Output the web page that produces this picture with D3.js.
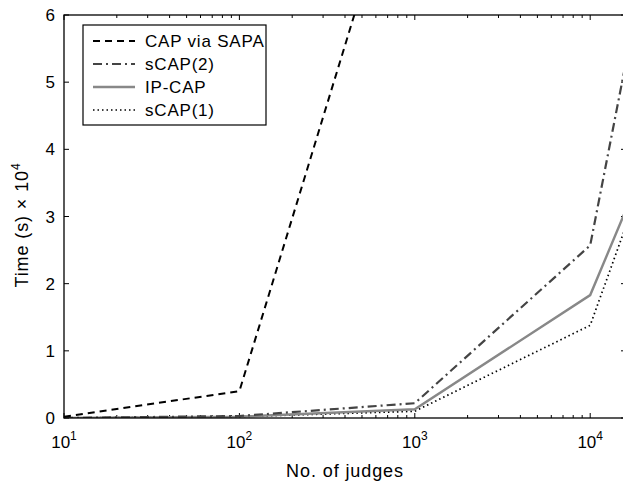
<!DOCTYPE html>
<html>
<head>
<meta charset="utf-8">
<script src="https://cdn.jsdelivr.net/npm/d3@7"></script>
<style>
  body { margin: 0; background: #fff; }
  text { font-family: "Liberation Sans", Arial, sans-serif; }
</style>
</head>
<body>
<div id="chart"></div>
<script>
// judges (x, log scale) and time in units of 1e4 s
const judges = [10, 100, 1000, 10000, 16000]
const capViaSapa = [0.02, 0.40, 8.95, null, null]
const sCap2 = [0.0, 0.03, 0.22, 2.57, 5.3]
const ipCap = [0.0, 0.02, 0.13, 1.83, 3.1]
const sCap1 = [0.0, 0.02, 0.10, 1.38, 2.86]
const yTicks = [0, 1, 2, 3, 4, 5, 6]
const xMajor = [10, 100, 1000, 10000]
const legendNames = ['CAP via SAPA', 'sCAP(2)', 'IP-CAP', 'sCAP(1)']

const series = [
  { name: legendNames[0], values: capViaSapa, color: '#000', width: 2, dash: '7,5' },
  { name: legendNames[1], values: sCap2, color: '#444', width: 2.2, dash: '9,4,2,4' },
  { name: legendNames[2], values: ipCap, color: '#888', width: 2.4, dash: null },
  { name: legendNames[3], values: sCap1, color: '#000', width: 1.7, dash: '1.5,3' }
]

const width = 623
const height = 483
const m = { left: 64, right: 626, top: 15, bottom: 418 }

const x = d3.scaleLog().domain([10, 16000]).range([m.left, m.right])
const y = d3.scaleLinear().domain([0, 6]).range([m.bottom, m.top])

const svg = d3.select('#chart').append('svg')
  .attr('width', width)
  .attr('height', height)

svg.append('defs').append('clipPath').attr('id', 'clip')
  .append('rect')
  .attr('x', m.left).attr('y', m.top)
  .attr('width', m.right - m.left).attr('height', m.bottom - m.top)

// minor ticks
const minor = []
for (let e = 1; e <= 4; e++) {
  for (let k = 2; k <= 9; k++) {
    const v = k * Math.pow(10, e)
    if (v <= 16000) minor.push(v)
  }
}

const ticks = svg.append('g').attr('stroke', '#000').attr('stroke-width', 1)
minor.forEach(v => {
  ticks.append('line').attr('x1', x(v)).attr('x2', x(v)).attr('y1', m.bottom).attr('y2', m.bottom - 3)
  ticks.append('line').attr('x1', x(v)).attr('x2', x(v)).attr('y1', m.top).attr('y2', m.top + 3)
})
xMajor.forEach(v => {
  ticks.append('line').attr('x1', x(v)).attr('x2', x(v)).attr('y1', m.bottom).attr('y2', m.bottom - 5)
  ticks.append('line').attr('x1', x(v)).attr('x2', x(v)).attr('y1', m.top).attr('y2', m.top + 5)
})
yTicks.forEach(v => {
  ticks.append('line').attr('x1', m.left).attr('x2', m.left + 5).attr('y1', y(v)).attr('y2', y(v))
  ticks.append('line').attr('x1', m.right).attr('x2', m.right - 5).attr('y1', y(v)).attr('y2', y(v))
})

// data lines
const line = d3.line()
  .defined(d => d[1] !== null)
  .x(d => x(d[0]))
  .y(d => y(d[1]))

const plot = svg.append('g').attr('clip-path', 'url(#clip)')
series.slice().reverse().forEach(s => {
  plot.append('path')
    .datum(judges.map((j, i) => [j, s.values[i]]))
    .attr('d', line)
    .attr('fill', 'none')
    .attr('stroke', s.color)
    .attr('stroke-width', s.width)
    .attr('stroke-dasharray', s.dash)
})

// frame
svg.append('rect')
  .attr('x', m.left).attr('y', m.top)
  .attr('width', m.right - m.left).attr('height', m.bottom - m.top)
  .attr('fill', 'none').attr('stroke', '#000').attr('stroke-width', 1.3)

// y tick labels
svg.append('g').selectAll('text')
  .data(yTicks)
  .enter().append('text')
  .attr('x', m.left - 9)
  .attr('y', d => y(d) + 6)
  .attr('text-anchor', 'end')
  .attr('font-size', 17)
  .text(d => d)

// x tick labels with superscript exponent
const xl = svg.append('g').selectAll('text')
  .data(xMajor)
  .enter().append('text')
  .attr('x', d => x(d))
  .attr('y', 448)
  .attr('text-anchor', 'middle')
  .attr('font-size', 17)
xl.append('tspan').text('10')
xl.append('tspan').attr('dy', -8).attr('font-size', 12).text(d => Math.round(Math.log10(d)))

svg.append('text')
  .attr('x', 345).attr('y', 477)
  .attr('text-anchor', 'middle')
  .attr('font-size', 18)
  .attr('letter-spacing', 0.9)
  .text('No. of judges')

const yl = svg.append('text')
  .attr('transform', 'translate(28,225) rotate(-90)')
  .attr('text-anchor', 'middle')
  .attr('font-size', 18)
  .attr('letter-spacing', 0.9)
yl.append('tspan').text('Time (s) × 10')
yl.append('tspan').attr('dy', -8).attr('font-size', 12).text('4')

// legend
const lg = svg.append('g')
lg.append('rect')
  .attr('x', 83).attr('y', 25).attr('width', 183).attr('height', 100)
  .attr('fill', '#fff').attr('stroke', '#000').attr('stroke-width', 1.2)
series.forEach((s, i) => {
  const ly = 41 + i * 23
  lg.append('line')
    .attr('x1', 93).attr('x2', 135).attr('y1', ly).attr('y2', ly)
    .attr('stroke', s.color).attr('stroke-width', s.width)
    .attr('stroke-dasharray', s.dash)
  lg.append('text')
    .attr('x', 145).attr('y', ly + 6)
    .attr('font-size', 17)
    .attr('letter-spacing', 0.8)
    .text(s.name)
})
</script>
</body>
</html>
